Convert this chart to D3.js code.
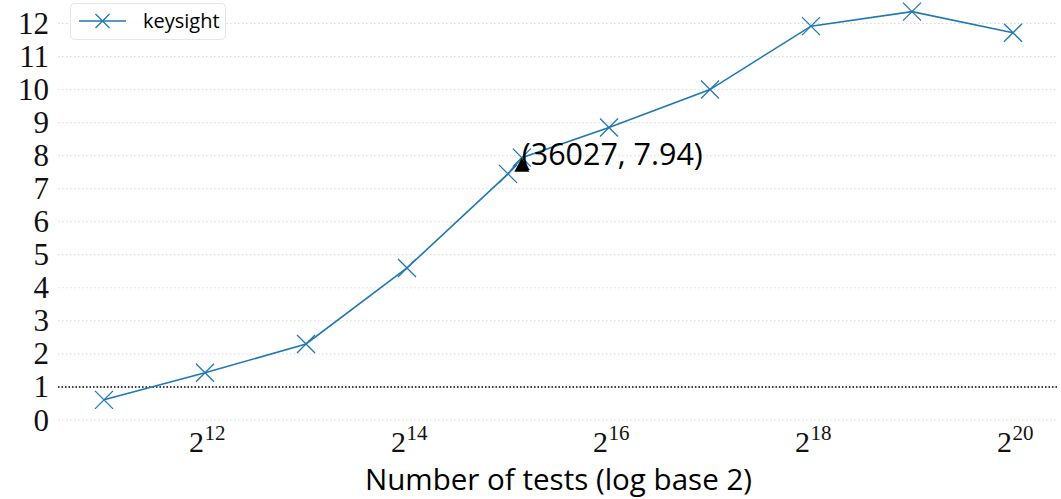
<!DOCTYPE html>
<html>
<head>
<meta charset="utf-8">
<script src="https://cdn.jsdelivr.net/npm/d3@7"></script>
<style>
  html, body { margin: 0; padding: 0; background: #fff; }
  svg { display: block; }
</style>
</head>
<body>
<svg id="chart" width="1061" height="499"></svg>
<script>
// Speed-up measured against number of tests
const tests = [2048, 4096, 8192, 16384, 32768, 36027, 65536, 131072, 262144, 524288, 1048576];
const keysight = [0.61, 1.43, 2.30, 4.60, 7.45, 7.94, 8.85, 10.0, 11.92, 12.36, 11.72];
const yTicks = [0, 1, 2, 3, 4, 5, 6, 7, 8, 9, 10, 11, 12];
const xTickExponents = [12, 14, 16, 18, 20];
const baseline = 1;
const highlight = { x: 36027, y: 7.94 };
const seriesName = "keysight";
const xTitle = "Number of tests (log base 2)";

const svg = d3.select("#chart");
const plotLeft = 58, plotRight = 1058;

const x = d3.scaleLog().base(2).domain([2 ** 11, 2 ** 20]).range([104, 1013]);
const y = d3.scaleLinear().domain([0, 12]).range([420, 23.5]);

const blue = "#1f77b4";
const serif = "'Liberation Serif', 'DejaVu Serif', serif";
const sans = "'Open Sans', 'DejaVu Sans', sans-serif";

// horizontal grid
svg.append("g").selectAll("line").data(yTicks).join("line")
  .attr("x1", plotLeft).attr("x2", plotRight)
  .attr("y1", d => y(d)).attr("y2", d => y(d))
  .attr("stroke", "#d8d8d8").attr("stroke-width", 1)
  .attr("stroke-dasharray", "1.5,2.5");

// y tick labels
svg.append("g").selectAll("text").data(yTicks).join("text")
  .attr("x", 49).attr("y", d => y(d))
  .attr("text-anchor", "end").attr("dominant-baseline", "central")
  .attr("font-family", serif).attr("font-size", 31)
  .attr("fill", "#111")
  .text(d => d);

// x tick labels as powers of two: base and exponent
const xg = svg.append("g").attr("font-family", serif).attr("fill", "#111");
xg.selectAll("text.base").data(xTickExponents).join("text")
  .attr("class", "base")
  .attr("x", d => x(2 ** d) - 1).attr("y", 452)
  .attr("text-anchor", "end").attr("font-size", 30)
  .text("2");
xg.selectAll("text.exp").data(xTickExponents).join("text")
  .attr("class", "exp")
  .attr("x", d => x(2 ** d) - 0.5).attr("y", 440)
  .attr("text-anchor", "start").attr("font-size", 21)
  .text(d => d);

// reference line at 1
svg.append("line")
  .attr("x1", plotLeft).attr("x2", plotRight)
  .attr("y1", y(baseline)).attr("y2", y(baseline))
  .attr("stroke", "#000").attr("stroke-width", 1.4)
  .attr("stroke-dasharray", "1.5,2");

// series line
const line = d3.line().x((d, i) => x(tests[i])).y(d => y(d));
svg.append("path")
  .attr("d", line(keysight))
  .attr("fill", "none").attr("stroke", blue).attr("stroke-width", 1.6);

// x markers
const m = 9;
const markerPath = `M${-m},${-m}L${m},${m}M${-m},${m}L${m},${-m}`;
svg.append("g").selectAll("path").data(keysight).join("path")
  .attr("transform", (d, i) => `translate(${x(tests[i])},${y(d)})`)
  .attr("d", markerPath)
  .attr("fill", "none").attr("stroke", blue).attr("stroke-width", 1.3);

// highlighted point
const hx = x(highlight.x), hy = y(highlight.y);
svg.append("path")
  .attr("d", `M${hx},${hy}L${hx + 7.5},${hy + 14}L${hx - 7.5},${hy + 14}Z`)
  .attr("fill", "#000");
svg.append("text")
  .attr("x", hx).attr("y", hy + 7)
  .attr("font-family", sans).attr("font-size", 31)
  .attr("textLength", 181).attr("lengthAdjust", "spacingAndGlyphs")
  .attr("fill", "#000")
  .text(`(${highlight.x}, ${highlight.y})`);

// x axis title
svg.append("text")
  .attr("x", 365).attr("y", 490)
  .attr("font-family", sans).attr("font-size", 30)
  .attr("textLength", 387).attr("lengthAdjust", "spacingAndGlyphs")
  .attr("fill", "#000")
  .text(xTitle);

// legend
const lg = svg.append("g");
lg.append("rect")
  .attr("x", 70.5).attr("y", 3.5).attr("width", 155).attr("height", 36)
  .attr("rx", 4).attr("fill", "#fff").attr("fill-opacity", 0.85)
  .attr("stroke", "#e6e6e6");
lg.append("line").attr("x1", 79).attr("x2", 126).attr("y1", 21).attr("y2", 21)
  .attr("stroke", blue).attr("stroke-width", 1.6);
lg.append("path").attr("transform", "translate(102.5,21)")
  .attr("d", `M-7,-7L7,7M-7,7L7,-7`)
  .attr("fill", "none").attr("stroke", blue).attr("stroke-width", 1.3);
lg.append("text").attr("x", 143).attr("y", 28)
  .attr("font-family", sans).attr("font-size", 20).attr("fill", "#000")
  .text(seriesName);
</script>
</body>
</html>
